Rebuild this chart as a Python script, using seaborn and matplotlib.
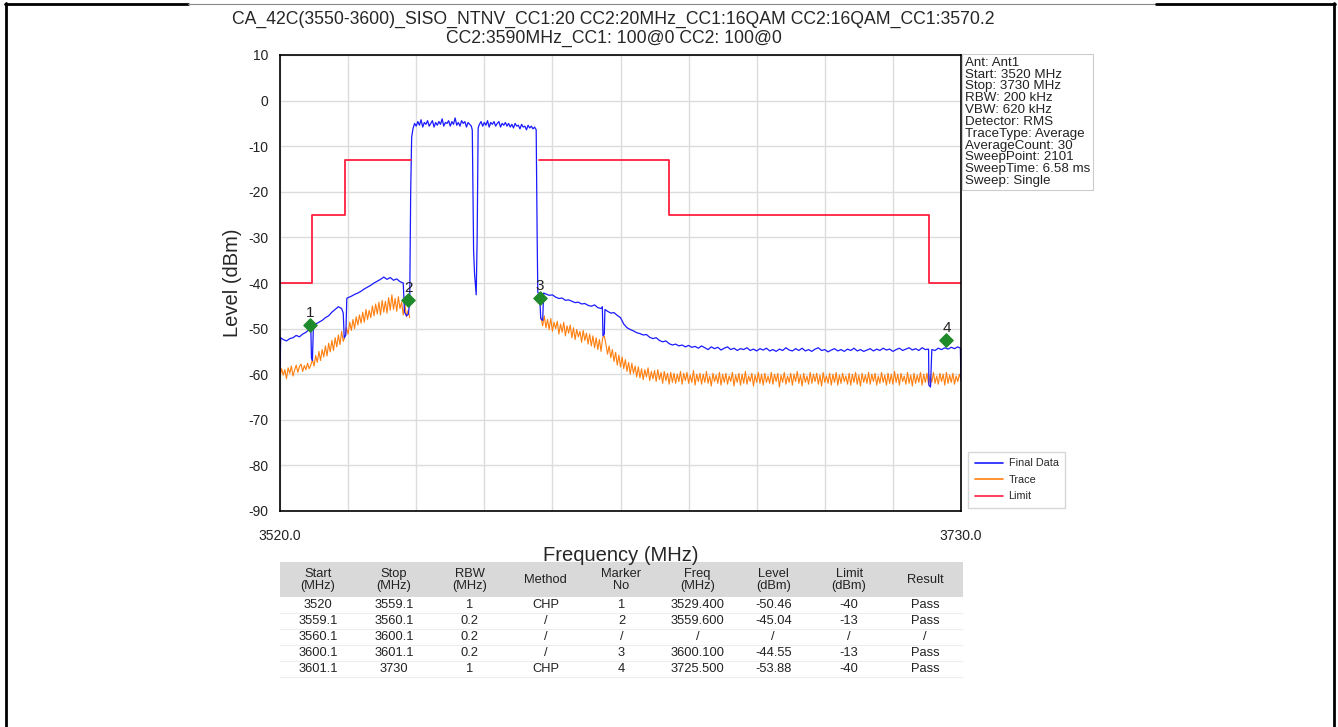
import numpy as np
import pandas as pd
import matplotlib
matplotlib.use("Agg")
import matplotlib.pyplot as plt
import matplotlib.transforms as mtransforms
from matplotlib.lines import Line2D
from matplotlib.patches import Rectangle
import seaborn as sns


title = ("CA_42C(3550-3600)_SISO_NTNV_CC1:20 CC2:20MHz_CC1:16QAM CC2:16QAM_CC1:3570.2\n"
         "CC2:3590MHz_CC1: 100@0 CC2: 100@0")
info_lines = ["Ant: Ant1", "Start: 3520 MHz", "Stop: 3730 MHz", "RBW: 200 kHz",
              "VBW: 620 kHz", "Detector: RMS", "TraceType: Average",
              "AverageCount: 30", "SweepPoint: 2101", "SweepTime: 6.58 ms",
              "Sweep: Single"]

# limit mask (band edges and level of each band)
limit_low_edges = [3520, 3530, 3540, 3560.3]
limit_low_levels = [-40, -25, -13]
limit_high_edges = [3600, 3640, 3720, 3730]
limit_high_levels = [-13, -25, -40]

# Final Data (blue)
blue_low_freq = [3520.0, 3520.2, 3521, 3522, 3523, 3524, 3525, 3526, 3527, 3528, 3529,
                 3529.5, 3529.7, 3530.0, 3530.3, 3531, 3532, 3533, 3534, 3535, 3536,
                 3537, 3538, 3539, 3539.5, 3539.8, 3540.3, 3540.6, 3541, 3542, 3543,
                 3544, 3545, 3546, 3547, 3548, 3549, 3550, 3551, 3552, 3553, 3554, 3555,
                 3556, 3557, 3558, 3558.4, 3559, 3559.6, 3560.0, 3560.3, 3560.6]
blue_low_level = [-59.5, -52.0, -52.4, -52.7, -52.2, -52.0, -51.5, -51.8, -51.2, -50.8, -50.2,
                  -49.6, -56.4, -57.0, -49.4, -49.0, -48.6, -48.2, -47.6, -47.2, -46.4,
                  -45.8, -45.2, -45.6, -46.6, -52.0, -51.4, -43.4, -43.2, -42.9, -42.5,
                  -42.2, -41.8, -41.3, -40.9, -40.5, -40.0, -39.6, -39.2, -38.7, -39.2, -38.8, -39.4,
                  -39.1, -39.7, -40.0, -46.4, -47.2, -46.8, -44.0, -20.0, -8.0]
# CC1 top, 3561.0 .. 3579.0 every 0.5 MHz
blue_cc1 = [-6.2, -5.0, -5.6, -4.6, -5.4, -4.2, -5.8, -4.8, -5.2, -4.4, -5.6, -5.0, -4.4,
            -5.8, -4.8, -5.4, -4.6, -5.2, -4.0, -5.6, -4.8, -5.0, -4.4, -5.6, -4.6, -5.2,
            -3.8, -5.4, -4.8, -5.6, -4.4, -5.0, -4.6, -5.8, -4.8, -5.2, -5.6]
blue_notch_freq = [3579.3, 3579.7, 3580.0, 3580.5, 3580.8, 3581.1]
blue_notch_level = [-6.5, -33.0, -38.0, -42.6, -30.0, -6.0]
# CC2 top, 3581.5 .. 3599.0 every 0.5 MHz
blue_cc2 = [-5.2, -4.6, -5.6, -4.8, -5.4, -4.4, -5.8, -4.8, -5.2, -4.6, -5.6, -5.0, -4.6,
            -5.8, -5.0, -5.4, -4.8, -5.6, -5.0, -5.8, -5.2, -6.0, -5.0, -5.6, -5.4, -6.2,
            -5.2, -5.8, -5.6, -6.4, -5.4, -6.0, -5.6, -6.2, -5.8, -6.4]
blue_high_freq = [3599.3, 3599.5, 3600.1, 3600.4, 3601.0, 3601.3,
                  3602, 3603, 3604, 3605, 3606, 3607, 3608, 3609, 3610, 3611, 3612, 3613,
                  3614, 3615, 3616, 3617, 3618, 3619, 3619.4, 3619.6, 3620.0, 3620.2,
                  3621, 3622, 3623, 3624, 3625, 3626, 3627, 3628, 3629, 3630, 3631, 3632,
                  3633, 3634, 3635, 3636, 3637, 3638, 3639, 3640, 3641, 3642, 3643, 3644,
                  3645, 3646, 3647, 3648, 3649, 3650]
blue_high_level = [-30.0, -42.0, -43.0, -47.8, -48.2, -42.2,
                   -42.4, -42.7, -42.6, -43.1, -43.4, -43.3, -43.8, -43.7, -44.0, -44.3, -44.2, -44.6,
                   -44.5, -44.9, -45.1, -44.8, -45.4, -45.6, -45.2, -51.6, -51.2, -45.8,
                   -46.2, -46.6, -46.5, -47.1, -47.6, -49.0, -49.8, -50.2, -50.5, -50.9, -51.1, -51.4,
                   -51.3, -51.9, -52.2, -52.0, -52.6, -52.9, -52.7, -53.3, -53.6, -53.4, -53.8, -53.6,
                   -54.0, -53.7, -54.1, -53.9, -54.3, -53.8]
# tail, 3651 .. 3729 every 1 MHz
blue_tail = [-54.2, -54.6, -54.0, -54.4, -54.1, -54.7, -54.3, -54.0, -54.6, -54.3,
             -54.8, -54.4, -54.6, -54.2, -54.8, -54.5, -54.9, -54.4, -54.7, -54.3,
             -54.9, -54.6, -55.0, -54.5, -54.8, -54.2, -54.7, -54.9, -54.4, -54.8,
             -54.3, -54.9, -54.6, -55.0, -54.5, -54.2, -54.8, -54.6, -55.1, -54.7,
             -54.4, -54.9, -54.6, -55.0, -54.5, -54.8, -54.3, -54.9, -54.6, -55.0,
             -54.7, -54.4, -54.9, -54.5, -54.8, -54.3, -54.7, -54.5, -55.0, -54.6,
             -54.3, -54.8, -54.5, -54.2, -54.7, -54.4, -54.8, -54.2, -54.6, -54.5,
             -54.6, -54.8, -54.3, -54.6, -54.2, -54.5, -54.1, -54.4, -54.0]
blue_dip_freq = [3720.1, 3720.6, 3729.8, 3730.0]
blue_dip_level = [-62.4, -62.8, -54.3, -61.5]

# Trace (orange), every 0.5 MHz: 3520 .. 3560 and 3600.5 .. 3730
orange_low = [-60.5, -58.8, -60.2, -59.0, -61.0, -58.6, -59.8, -58.2, -60.4, -59.1,
              -58.0, -59.6, -58.3, -57.8, -59.4, -58.1, -59.0, -57.6, -58.8, -58.0,
              -56.8, -58.2, -55.9, -57.4, -55.0, -57.0, -54.6, -56.2, -53.8, -56.0,
              -53.2, -55.1, -52.6, -54.8, -52.0, -54.0, -51.4, -53.5, -50.6, -52.8,
              -51.8, -49.8, -51.2, -48.6, -50.4, -48.0, -50.0, -47.4, -49.2, -47.0,
              -48.8, -46.4, -48.6, -45.8, -48.0, -46.0, -47.6, -45.0, -47.2, -44.6,
              -46.8, -44.2, -47.0, -43.8, -46.4, -44.0, -46.6, -43.2, -46.0, -42.6,
              -45.8, -43.4, -46.2, -43.0, -45.6, -44.2, -47.0, -44.6, -47.4, -46.0,
              -47.6]
orange_high = [-47.6, -49.4, -47.2, -49.8, -48.0, -50.2, -47.8, -50.6, -48.6, -50.0,
               -48.4, -51.2, -49.0, -50.8, -48.6, -51.6, -49.4, -51.0, -49.2, -52.0,
               -49.8, -52.4, -50.2, -51.8, -50.6, -53.0, -50.4, -52.6, -51.0, -53.4,
               -51.2, -53.8, -51.6, -54.2, -52.0, -54.6, -52.4, -55.0, -52.0, -51.6,
               -53.4, -55.6, -53.8, -56.4, -54.6, -57.2, -55.2, -58.0, -55.8, -58.4,
               -56.2, -58.8, -56.8, -59.4, -57.4, -60.0, -57.6, -59.8, -58.2, -60.6,
               -58.4, -60.8, -58.8, -61.2, -59.0, -60.6, -58.6, -61.4, -59.4, -61.0,
               -59.2, -61.6, -59.0, -61.2, -59.6, -62.0, -59.4, -61.4, -59.8, -62.2,
               -59.6, -61.8, -59.8, -62.0, -60.0, -61.6, -59.4, -62.2, -59.8, -61.4,
               -59.6, -62.0, -60.2, -61.8, -59.2, -62.4, -60.0, -61.6, -59.8, -62.2,
               -60.0, -61.8, -59.4, -62.0, -60.4, -62.6, -59.8, -61.6, -60.2, -62.0,
               -59.6, -62.4, -60.0, -61.8, -59.8, -62.2, -60.4, -61.6, -59.6, -62.6,
               -60.2, -61.8, -59.8, -62.4, -60.0, -62.0, -59.4, -62.2, -60.4, -61.6,
               -59.8, -62.6, -60.2, -61.8, -59.6, -62.0, -60.0, -62.4, -59.8, -61.8,
               -60.4, -62.0, -59.6, -62.2, -60.0, -61.6, -59.8, -62.8, -60.2, -61.8,
               -59.6, -62.2, -60.4, -61.8, -59.8, -62.4, -60.0, -61.6, -59.4, -62.0,
               -60.2, -62.6, -59.8, -61.8, -60.4, -62.2, -59.6, -62.0, -60.0, -61.6,
               -59.8, -62.2, -60.2, -62.6, -59.6, -61.8, -60.4, -62.0, -59.8, -62.4,
               -60.0, -61.8, -59.6, -62.4, -60.2, -62.0, -59.8, -61.6, -60.4, -62.2,
               -59.8, -62.4, -60.0, -61.8, -59.6, -62.2, -60.2, -62.6, -59.8, -61.8,
               -60.2, -62.0, -59.6, -62.2, -60.0, -61.6, -59.8, -62.4, -60.4, -62.0,
               -59.6, -61.8, -60.2, -62.4, -59.8, -62.0, -60.0, -62.2, -59.4, -61.8,
               -60.0, -62.4, -59.8, -61.6, -60.4, -62.2, -59.6, -62.0, -60.2, -62.6,
               -59.8, -62.0, -60.2, -61.8, -59.6, -62.4, -60.0, -61.8, -59.8, -62.2,
               -60.2, -61.8, -59.6, -62.0, -60.4, -62.2, -59.8, -61.6, -60.0, -62.4,
               -59.6, -62.0, -60.2, -61.8, -59.8, -62.2, -60.4, -61.6, -60.0, -61.2]

# markers
marker_no = [1, 2, 3, 4]
marker_freq = [3529.4, 3559.6, 3600.1, 3725.5]
marker_level = [-50.46, -45.04, -44.55, -53.88]

# result table
table_header = ["Start\n(MHz)", "Stop\n(MHz)", "RBW\n(MHz)", "Method", "Marker\nNo",
                "Freq\n(MHz)", "Level\n(dBm)", "Limit\n(dBm)", "Result"]
tab_start = ["3520", "3559.1", "3560.1", "3600.1", "3601.1"]
tab_stop = ["3559.1", "3560.1", "3600.1", "3601.1", "3730"]
tab_rbw = ["1", "0.2", "0.2", "0.2", "1"]
tab_method = ["CHP", "/", "/", "/", "CHP"]
tab_marker = ["1", "2", "/", "3", "4"]
tab_freq = ["3529.400", "3559.600", "/", "3600.100", "3725.500"]
tab_level = ["-50.46", "-45.04", "/", "-44.55", "-53.88"]
tab_limit = ["-40", "-13", "/", "-13", "-40"]
tab_result = ["Pass", "Pass", "/", "Pass", "Pass"]

BLUE = "#1a1aff"
ORANGE = "#ff7f0e"
RED = "#ff1f3f"
GREEN = "#1f8a2a"

sns.set_style("whitegrid", {"axes.edgecolor": "black", "grid.color": "#dcdcdc"})
plt.rcParams["font.family"] = ["Liberation Sans", "DejaVu Sans"]
plt.rcParams["axes.unicode_minus"] = False

# ---- build frames
blue_df = pd.concat([
    pd.DataFrame({"freq": blue_low_freq, "level": blue_low_level}),
    pd.DataFrame({"freq": np.linspace(3561.0, 3579.0, len(blue_cc1)), "level": blue_cc1}),
    pd.DataFrame({"freq": blue_notch_freq, "level": blue_notch_level}),
    pd.DataFrame({"freq": np.linspace(3581.5, 3599.0, len(blue_cc2)), "level": blue_cc2}),
    pd.DataFrame({"freq": blue_high_freq, "level": blue_high_level}),
    pd.DataFrame({"freq": np.linspace(3651, 3729, len(blue_tail)), "level": blue_tail}),
    pd.DataFrame({"freq": blue_dip_freq, "level": blue_dip_level}),
]).sort_values("freq")

orange_df = pd.concat([
    pd.DataFrame({"freq": np.linspace(3520, 3560, len(orange_low)), "level": orange_low, "seg": 0}),
    pd.DataFrame({"freq": np.linspace(3600.5, 3730, len(orange_high)), "level": orange_high, "seg": 1}),
])


def step_points(edges, levels, seg):
    xs, ys = [], []
    for i, lvl in enumerate(levels):
        xs += [edges[i], edges[i + 1]]
        ys += [lvl, lvl]
    return pd.DataFrame({"freq": xs, "level": ys, "seg": seg})


limit_df = pd.concat([step_points(limit_low_edges, limit_low_levels, 0),
                      step_points(limit_high_edges, limit_high_levels, 1)])

W, H = 1338, 727
fig = plt.figure(figsize=(W / 100, H / 100), dpi=100)
ax = fig.add_axes([280 / W, 1 - 511 / H, 681 / W, 456 / H])
ax.set_zorder(3)

sns.lineplot(data=orange_df, x="freq", y="level", units="seg", estimator=None, sort=False,
             color=ORANGE, lw=0.8, ax=ax)
sns.lineplot(data=blue_df, x="freq", y="level", estimator=None, sort=False,
             color=BLUE, lw=0.9, ax=ax)
sns.lineplot(data=limit_df, x="freq", y="level", units="seg", estimator=None, sort=False,
             color=RED, lw=1.3, ax=ax)

# markers sit a little above the trace in the original
mk_tr = mtransforms.offset_copy(ax.transData, fig=fig, x=0, y=6, units="dots")
ax.scatter(marker_freq, marker_level, marker="D", s=45, color=GREEN, zorder=5, transform=mk_tr)
for n, f, l in zip(marker_no, marker_freq, marker_level):
    ax.annotate(str(n), (f, l), xytext=(0, 18), textcoords="offset pixels",
                ha="center", va="center", fontsize=11, color="#222222", zorder=6)

ax.set_xlim(3520, 3730)
ax.set_ylim(-90, 10)
xt = np.arange(3520, 3731, 21)
ax.set_xticks(xt)
ax.set_xticklabels(["3520.0"] + [""] * (len(xt) - 2) + ["3730.0"])
ax.set_yticks(np.arange(-90, 11, 10))
ax.tick_params(axis="both", direction="out", length=5, width=1, color="black",
               labelsize=10, labelcolor="#222222")
ax.tick_params(axis="x", pad=8)
ax.grid(True, color="#dcdcdc", lw=1)
for s in ax.spines.values():
    s.set_color("black")
    s.set_linewidth(1.2)
ax.set_xlabel("Frequency (MHz)", fontsize=14.5, labelpad=2)
ax.set_ylabel("Level (dBm)", fontsize=14.5, labelpad=4)
ax.set_title(title, fontsize=12.7, linespacing=1.08, pad=9, x=0.49)

ax.text(1.006, 0.996, "\n".join(info_lines), transform=ax.transAxes, ha="left", va="top",
        fontsize=9.6, linespacing=0.98, color="#222222",
        bbox=dict(boxstyle="square,pad=0.2", fc="white", ec="#cccccc", lw=0.8))

handles = [Line2D([], [], color=BLUE, lw=1.2), Line2D([], [], color=ORANGE, lw=1.2),
           Line2D([], [], color=RED, lw=1.2)]
ax.legend(handles, ["Final Data", "Trace", "Limit"], loc="lower left",
          bbox_to_anchor=(1.003, -0.005), fontsize=7.8, frameon=True, edgecolor="#cccccc",
          fancybox=False, handlelength=2.6, handletextpad=0.5, borderpad=0.6,
          labelspacing=0.6)

# ---- result table
tax = fig.add_axes([280 / W, 1 - 680 / H, 683 / W, 118 / H])
tax.set_xlim(0, 9)
tax.set_ylim(118, 0)
tax.axis("off")
tax.add_patch(Rectangle((0, 0), 9, 35, color="#d9d9d9", lw=0))
for j, h in enumerate(table_header):
    tax.text(j + 0.5, 18, h, ha="center", va="center", fontsize=9.3, linespacing=1.0,
             color="#222222")
cols = [tab_start, tab_stop, tab_rbw, tab_method, tab_marker, tab_freq, tab_level,
        tab_limit, tab_result]
for i in range(len(tab_start)):
    y = 35 + 16 * i + 8
    tax.axhline(35 + 16 * (i + 1), color="#eeeeee", lw=0.8)
    for j, col in enumerate(cols):
        tax.text(j + 0.5, y, col[i], ha="center", va="center", fontsize=9.3, color="#222222")

# ---- page frame
def fig_line(x0, y0, x1, y1, lw, color="black"):
    fig.add_artist(Line2D([x0 / W, x1 / W], [1 - y0 / H, 1 - y1 / H],
                          transform=fig.transFigure, color=color, lw=lw))


fig_line(6, 3, 6, H, 2.0)
fig_line(1334, 3, 1334, H, 2.0)
fig_line(5, 4, 188, 4, 2.0)
fig_line(188, 4, 1156, 4, 0.8, "#888888")
fig_line(1156, 4, 1335, 4, 2.0)

fig.savefig("out.png", dpi=100)
